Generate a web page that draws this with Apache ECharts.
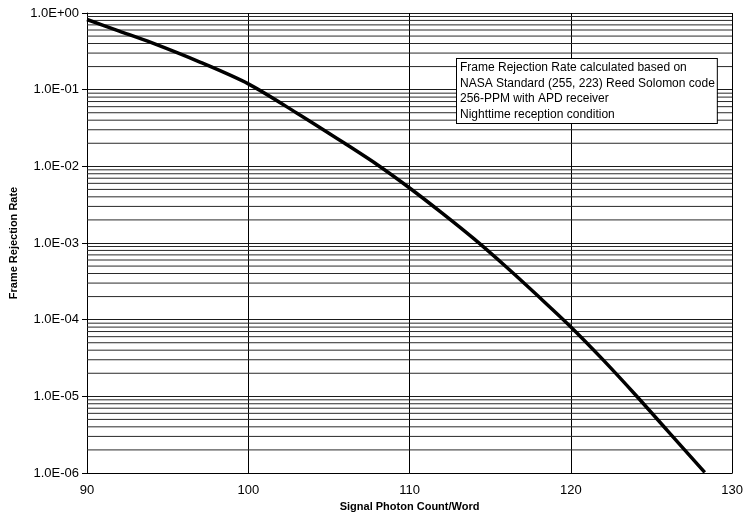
<!DOCTYPE html>
<html>
<head>
<meta charset="utf-8">
<script src="https://cdn.jsdelivr.net/npm/echarts@6/dist/echarts.min.js"></script>
<style>html,body{margin:0;padding:0;background:#fff}#c{width:746px;height:518px}</style>
</head>
<body>
<div id="c"></div>
<script>
// Data
const photonCounts = [90, 92, 94, 97, 100, 103, 106, 108, 110, 112, 114, 116, 118, 120, 122, 124, 126, 128.3];
const rejectionRate = [0.823, 0.581, 0.41, 0.229, 0.119, 0.0497, 0.0198, 0.0105, 0.00522, 0.00247, 0.00113, 0.000486, 0.0002, 0.0000804, 0.0000299, 0.0000105, 0.00000355, 0.00000102];
const xTicks = [90, 100, 110, 120, 130];
const yDecades = [-6, -5, -4, -3, -2, -1, 0];
const minorMultipliers = [2, 3, 4, 5, 6, 7, 8, 9];
const noteLines = [
  'Frame Rejection Rate calculated based on',
  'NASA Standard (255, 223) Reed Solomon code',
  '256-PPM with APD receiver',
  'Nighttime reception condition'
];

const minorValues = [];
yDecades.slice(0, -1).forEach(d => minorMultipliers.forEach(m => minorValues.push(m * Math.pow(10, d))));

function fmt(v) {
  const e = Math.round(Math.log10(v));
  const m = v / Math.pow(10, e);
  return m.toFixed(1) + 'E' + (e < 0 ? '-' : '+') + String(Math.abs(e)).padStart(2, '0');
}

const xMin = xTicks[0], xMax = xTicks[xTicks.length - 1];
const gridSeries = minorValues.map(v => ({
  type: 'line',
  silent: true,
  symbol: 'none',
  data: [[xMin, v], [xMax, v]],
  lineStyle: {color: '#2a2a2a', width: 1},
  z: 1
}));

const chart = echarts.init(document.getElementById('c'), null, {renderer: 'canvas'});
const font = 'Liberation Sans, Arial, sans-serif';
chart.setOption({
  animation: false,
  backgroundColor: '#fff',
  grid: {left: 87, right: 10, top: 13, bottom: 45, containLabel: false},
  xAxis: {
    type: 'value',
    min: xMin, max: xMax, interval: 10,
    name: 'Signal Photon Count/Word',
    nameLocation: 'middle', nameGap: 28,
    nameTextStyle: {fontFamily: font, fontSize: 11, fontWeight: 'bold', color: '#000'},
    axisLine: {show: true, lineStyle: {color: '#000', width: 1}},
    axisTick: {show: false},
    axisLabel: {fontFamily: font, fontSize: 13, color: '#000', margin: 11},
    splitLine: {show: true, lineStyle: {color: '#000', width: 1}}
  },
  yAxis: {
    type: 'log', logBase: 10,
    min: 1e-6, max: 1, interval: 1,
    name: 'Frame Rejection Rate',
    nameLocation: 'middle', nameGap: 60, nameRotate: 90,
    nameTextStyle: {fontFamily: font, fontSize: 11, fontWeight: 'bold', color: '#000'},
    axisLine: {show: true, lineStyle: {color: '#000', width: 1}},
    axisTick: {show: true, length: 5, lineStyle: {color: '#000'}},
    axisLabel: {fontFamily: font, fontSize: 13, color: '#000', margin: 8, formatter: fmt},
    splitLine: {show: true, lineStyle: {color: '#1a1a1a', width: 1}}
  },
  graphic: [{
    type: 'text',
    left: 456, top: 58,
    z: 100,
    style: {
      text: noteLines.join('\n'),
      fontFamily: font, fontSize: 12, lineHeight: 15.5,
      fill: '#000',
      backgroundColor: '#fff',
      borderColor: '#000', borderWidth: 1,
      padding: [1, 2, 1, 3]
    }
  }],
  series: gridSeries.concat([{
    type: 'line',
    data: photonCounts.map((x, i) => [x, rejectionRate[i]]),
    smooth: 0.3,
    symbol: 'none',
    lineStyle: {color: '#000', width: 3.5},
    z: 5
  }])
});
</script>
</body>
</html>
